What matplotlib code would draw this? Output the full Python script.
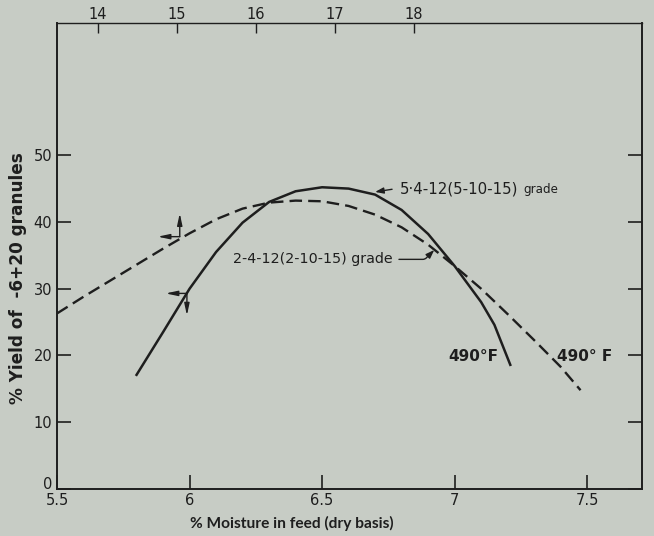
import matplotlib
matplotlib.use('Agg')
from matplotlib import pyplot as plt

# values
moist_dash=[5.5,5.6,5.7,5.8,5.9,6.0,6.1,6.2,6.3,6.4,6.5,6.6,6.7,6.8,6.9,7.0,7.1,7.2,7.3,7.4,7.475]
yield_dash=[26.3,28.8,31.2,33.6,36.0,38.3,40.4,42.0,42.9,43.2,43.1,42.4,41.1,39.2,36.6,33.4,30.0,26.2,22.3,18.3,14.8]
moist_solid=[5.8,5.9,6.0,6.1,6.2,6.3,6.4,6.5,6.6,6.7,6.8,6.9,7.0,7.1,7.15,7.21]
yield_solid=[17.1,23.5,30.0,35.5,39.9,43.0,44.6,45.2,45.0,44.1,41.8,38.2,33.4,28.0,24.6,18.6]
xticks=[5.5,6,6.5,7,7.5]
xtick_labels=['5.5','6','6.5','7','7.5']
yticks=[0,10,20,30,40,50]
top_ticks=[14,15,16,17,18]

bg='#c7ccc5'
ink='#1e1e1e'

fig=plt.figure(figsize=(6.54,5.36),dpi=100)
fig.patch.set_facecolor(bg)
ax=fig.add_axes([0.0872,0.0877,0.8945,0.8693])
ax.set_facecolor(bg)

ax.plot(moist_dash,yield_dash,color=ink,lw=1.7,dashes=(5.3,2.6))
ax.plot(moist_solid,yield_solid,color=ink,lw=1.8)

ax.set_xlim(5.5,7.707)
ax.set_ylim(0,69.8)
ax.set_xticks(xticks)
ax.set_xticklabels(xtick_labels)
ax.set_yticks(yticks)
ax.tick_params(direction='in',length=10,width=1.2,color=ink,labelsize=10.5,labelcolor=ink,
               right=True,labelright=False)
ax.tick_params(axis='x',pad=3)
ax.get_yticklabels()[0].set_verticalalignment('baseline')
for s in ax.spines.values():
    s.set_linewidth(1.4)
    s.set_color(ink)
ax.spines['top'].set_linewidth(1.0)

# second moisture scale on top
def to_top(x):
    return 14+(x-5.655)/0.298
def to_bottom(t):
    return 5.655+(t-14)*0.298
top=ax.secondary_xaxis('top',functions=(to_top,to_bottom))
top.set_xticks(top_ticks)
top.tick_params(direction='in',length=7,width=1.0,color=ink,labelsize=10.5,labelcolor=ink,pad=1)
top.spines['top'].set_visible(False)

fig.text(0.446,0.024,'% Moisture in feed (dry basis)',ha='center',va='center',
         fontsize=11.2,fontweight='bold',family=['Lato','DejaVu Sans'],color=ink)
fig.text(0.027,0.481,'% Yield of  -6+20 granules',ha='center',va='center',rotation=90,
         fontsize=12.2,fontweight='bold',color=ink)

# curve labels
lead=dict(arrowstyle='-|>,head_length=0.5,head_width=0.18',color=ink,lw=1.0,shrinkA=0,shrinkB=0)
ax.annotate('',xy=(6.70,44.5),xytext=(6.764,44.9),arrowprops=lead)
ax.text(6.794,44.9,'5·4-12(5-10-15)',fontsize=10.8,color=ink,va='center')
ax.text(7.26,44.9,'grade',fontsize=8.6,color=ink,va='center')
ax.text(6.164,34.5,'2-4-12(2-10-15) grade',fontsize=10.3,color=ink,va='center')
ax.annotate('',xy=(6.923,35.8),xytext=(6.79,34.4),
            arrowprops=dict(lead,connectionstyle='angle,angleA=0,angleB=45,rad=2'))
ax.text(6.975,19.8,'490°F',fontsize=11,color=ink,va='center',fontweight='bold')
ax.text(7.387,19.8,'490° F',fontsize=11,color=ink,va='center',fontweight='bold')

# axis-pointer arrows
arr=dict(arrowstyle='-|>,head_length=0.7,head_width=0.15',color=ink,lw=1.0,shrinkA=0,shrinkB=0)
ax.annotate('',xy=(5.88,37.8),xytext=(5.963,37.8),arrowprops=arr)
ax.annotate('',xy=(5.963,41.3),xytext=(5.963,37.8),arrowprops=arr)
ax.annotate('',xy=(5.91,29.3),xytext=(5.99,29.3),arrowprops=arr)
ax.annotate('',xy=(5.99,26.0),xytext=(5.99,29.3),arrowprops=arr)

fig.savefig('out.png',dpi=100,facecolor=bg)
